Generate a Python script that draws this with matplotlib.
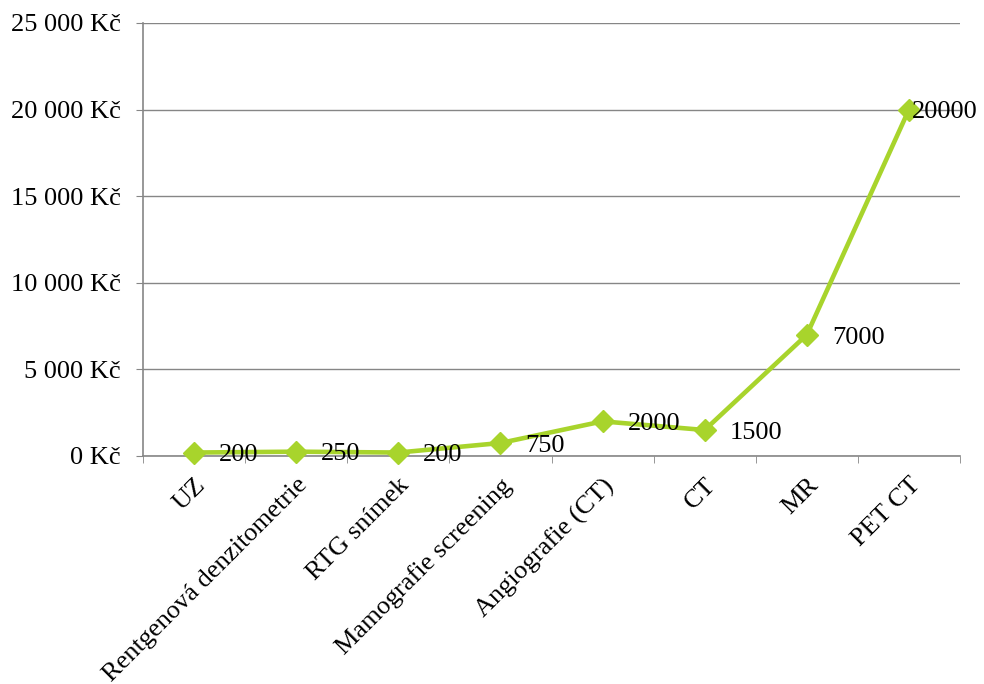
import matplotlib.pyplot as plt
from matplotlib.ticker import FuncFormatter, MultipleLocator

# ceny vysetreni
vysetreni = ["UZ", "Rentgenová denzitometrie", "RTG snímek", "Mamografie screening",
             "Angiografie (CT)", "CT", "MR", "PET CT"]
cena = [200, 250, 200, 750, 2000, 1500, 7000, 20000]

plt.rcParams['font.family'] = ['Liberation Serif', 'DejaVu Serif']

fig = plt.figure(figsize=(9.84, 6.84), dpi=100)
ax = fig.add_axes([143 / 984, 1 - 456 / 684, 817 / 984, 433 / 684])

zelena = '#A8D42C'
x = list(range(len(vysetreni)))
ax.plot(x, cena, color=zelena, lw=3.3, marker='D', ms=11, zorder=3, clip_on=False)

for xi, v in zip(x, cena):
    dx = 18 if xi < len(cena) - 1 else 2
    ax.annotate(str(v), (xi, v), xytext=(dx, -2), textcoords='offset points',
                ha='left', va='center', fontsize=19, zorder=4)

ax.set_xlim(-0.5, len(vysetreni) - 0.5)
ax.set_ylim(0, 25000)
ax.yaxis.set_major_locator(MultipleLocator(5000))
ax.yaxis.set_major_formatter(FuncFormatter(
    lambda v, p: f"{int(v):,} Kč".replace(",", " ")))

# popisky kategorii, znacky mezi kategoriemi
ax.set_xticks(x)
ax.set_xticklabels(vysetreni, rotation=45, ha='right', rotation_mode='anchor', fontsize=19)
ax.tick_params(axis='x', length=0, pad=13)
ax.set_xticks([i - 0.5 for i in range(len(vysetreni) + 1)], minor=True)
ax.tick_params(axis='x', which='minor', length=5, color='#868686', direction='out')
ax.tick_params(axis='y', labelsize=19, length=5, color='#868686', pad=11)

ax.grid(axis='y', color='#868686', lw=1)
ax.set_axisbelow(True)
for s in ['top', 'right']:
    ax.spines[s].set_visible(False)
for s in ['left', 'bottom']:
    ax.spines[s].set_color('#868686')
    ax.spines[s].set_linewidth(1.2)

fig.savefig('out.png', dpi=100)
